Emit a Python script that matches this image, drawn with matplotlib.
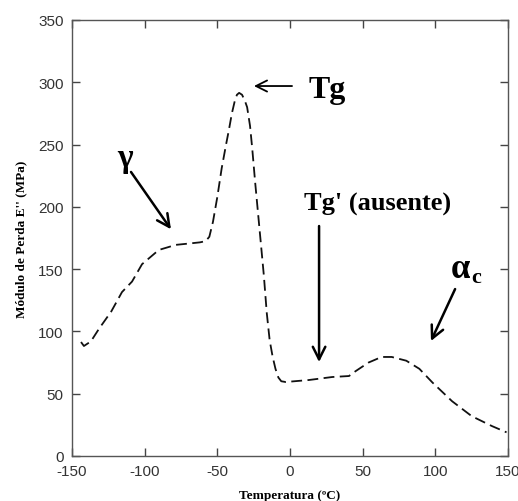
import matplotlib
matplotlib.use("Agg")
import matplotlib.pyplot as plt

plt.rcParams["axes.unicode_minus"] = False

# Loss modulus E'' versus temperature
temperature = [-143.8, -141.8, -137, -131.5, -123, -115.6, -108.7, -101.8, -92, -90,
               -78.5, -70, -62, -58, -55.5, -53, -50, -47, -44, -42, -40, -38,
               -36.5, -35, -33, -31, -29.5, -27.5, -26, -24, -22, -20, -18, -16,
               -14, -12, -10, -8, -6, -3, 13, 29, 40.6, 45, 54, 63, 70, 80, 89,
               98, 111.5, 125, 139, 149]
loss_modulus = [91.5, 88.3, 92, 102, 116, 131.6, 140, 154, 163.7, 165.5,
                169.5, 170.5, 171.5, 172.5, 176, 188, 208, 231, 250, 262, 275, 285,
                290, 291.5, 290, 285, 280, 265, 247, 220, 195, 170, 145, 115,
                93, 80, 70, 63, 60, 59.4, 61, 63.4, 64.2, 68, 75, 79.5, 79.5, 76.5, 70,
                59, 44, 32, 24, 19]

x_ticks = [-150, -100, -50, 0, 50, 100, 150]
y_ticks = [0, 50, 100, 150, 200, 250, 300, 350]

serif = ["Liberation Serif", "DejaVu Serif"]
sans = ["Liberation Sans", "DejaVu Sans"]

fig = plt.figure(figsize=(5.18, 5.02), dpi=100)
ax = fig.add_axes([72 / 518, 45 / 502, 436 / 518, 436 / 502])

ax.plot(temperature, loss_modulus, color="#111111", lw=1.3,
        linestyle=(0, (6, 3)))

ax.set_xlim(-150, 150)
ax.set_ylim(0, 350)
ax.set_xticks(x_ticks)
ax.set_yticks(y_ticks)
ax.tick_params(direction="in", length=6, width=1, color="#444444",
               top=True, right=True, labelsize=11, labelcolor="#333333", pad=6)
for lab in ax.get_xticklabels() + ax.get_yticklabels():
    lab.set_family(sans)
for s in ax.spines.values():
    s.set_color("#555555")
    s.set_linewidth(1.0)

ax.set_xlabel("Temperatura (ºC)", family=serif, weight="bold", fontsize=9.5,
              labelpad=8)
ax.set_ylabel("Módulo de Perda E'' (MPa)", family=serif, weight="bold",
              fontsize=9.5, labelpad=8)

arrow = dict(arrowstyle="->,head_length=0.9,head_width=0.45", color="black",
             lw=1.8, shrinkA=0, shrinkB=0)
thin_arrow = dict(arrowstyle="->,head_length=0.8,head_width=0.4", color="black",
                  lw=1.3, shrinkA=0, shrinkB=0)

# Tg peak
ax.annotate("", xy=(-24.8, 297), xytext=(1.4, 297), arrowprops=thin_arrow)
ax.text(13, 294.5, "Tg", family=serif, weight="bold", fontsize=23,
        ha="left", va="center")

# gamma relaxation
ax.annotate("", xy=(-81.9, 182), xytext=(-109.4, 228), arrowprops=arrow)
ax.text(-113.6, 240, "γ", family=serif, weight="bold", fontsize=24,
        ha="center", va="center")

# Tg' absent
ax.annotate("", xy=(20, 75.4), xytext=(20, 184.6), arrowprops=arrow)
ax.text(9.6, 198, "Tg' (ausente)", family=serif, weight="bold", fontsize=19,
        ha="left", va="baseline")

# alpha_c relaxation
ax.annotate("", xy=(97, 92.3), xytext=(113.6, 134), arrowprops=arrow)
ax.text(110.8, 143.7, "α", family=serif, weight="bold", fontsize=25,
        ha="left", va="baseline")
ax.text(124.6, 139.6, "c", family=serif, weight="bold", fontsize=16,
        ha="left", va="baseline")

fig.savefig("out.png", dpi=100)
